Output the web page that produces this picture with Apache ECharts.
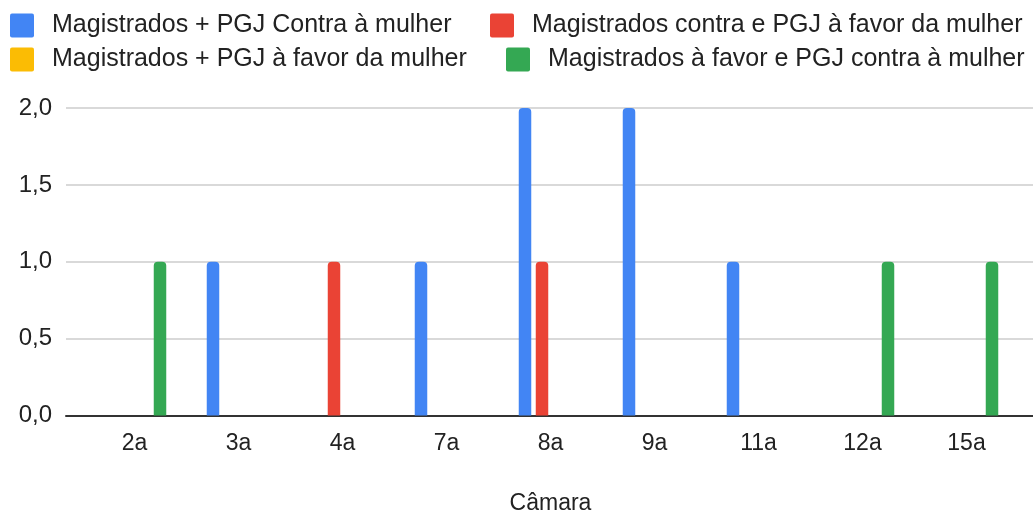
<!DOCTYPE html>
<html>
<head>
<meta charset="utf-8">
<script src="https://cdn.jsdelivr.net/npm/echarts@6/dist/echarts.min.js"></script>
<style>
  html, body { margin: 0; padding: 0; background: #fff; }
  #chart { width: 1033px; height: 513px; }
</style>
</head>
<body>
<div id="chart"></div>
<script>
var categories = ['2a', '3a', '4a', '7a', '8a', '9a', '11a', '12a', '15a'];
var seriesNames = [
    'Magistrados + PGJ Contra à mulher',
    'Magistrados contra e PGJ à favor da mulher',
    'Magistrados + PGJ à favor da mulher',
    'Magistrados à favor e PGJ contra à mulher'
];
var contraAmbos = [0, 1, 0, 1, 2, 2, 1, 0, 0];
var contraMagFavorPgj = [0, 0, 1, 0, 1, 0, 0, 0, 0];
var favorAmbos = [0, 0, 0, 0, 0, 0, 0, 0, 0];
var favorMagContraPgj = [1, 0, 0, 0, 0, 0, 0, 1, 1];
var yTicks = [0, 0.5, 1, 1.5, 2];

var colors = ['#4285F4', '#EA4335', '#FBBC04', '#34A853'];
var values = [contraAmbos, contraMagFavorPgj, favorAmbos, favorMagContraPgj];

// legend positions (google sheets puts them in a 2x2 block)
var legendPos = [
    {left: 10, top: 13},
    {left: 490, top: 13},
    {left: 10, top: 47},
    {left: 506, top: 47}
];

var fontFamily = '"Liberation Sans", Arial, sans-serif';
// square with slightly rounded corners, like the sheets legend
var squareIcon = 'path://M2,0H22Q24,0 24,2V22Q24,24 22,24H2Q0,24 0,22V2Q0,0 2,0Z';

var legends = seriesNames.map(function (name, i) {
    return {
        data: [name],
        left: legendPos[i].left,
        top: legendPos[i].top,
        padding: 0,
        itemWidth: 24,
        itemHeight: 24,
        icon: squareIcon,
        selectedMode: false,
        textStyle: {
            fontSize: 25,
            color: '#222',
            fontFamily: fontFamily,
            padding: [0, 0, 0, 13]
        }
    };
});

var series = seriesNames.map(function (name, i) {
    return {
        name: name,
        type: 'bar',
        xAxisIndex: 0,
        yAxisIndex: 0,
        data: values[i],
        barWidth: 12.5,
        barGap: '36%',
        z: 3,
        itemStyle: {
            color: colors[i],
            borderRadius: [4, 4, 0, 0]
        }
    };
});

var option = {
    animation: false,
    color: colors,
    legend: legends,
    grid: [
        {left: 82.5, right: 14.5, top: 108, bottom: 97.5, outerBoundsMode: 'none'},
        {left: 66, right: 0, top: 108, bottom: 97.5, outerBoundsMode: 'none'}
    ],
    xAxis: [
        {
            type: 'category',
            gridIndex: 0,
            data: categories,
            name: 'Câmara',
            nameLocation: 'middle',
            nameGap: 77,
            nameTextStyle: {fontSize: 23, color: '#222', fontFamily: fontFamily},
            axisLine: {show: false},
            axisTick: {show: false},
            axisLabel: {fontSize: 23, color: '#222', fontFamily: fontFamily, margin: 17}
        },
        {
            type: 'value',
            gridIndex: 1,
            min: 0,
            max: 1,
            axisLine: {show: true, lineStyle: {color: '#333', width: 2}},
            axisTick: {show: false},
            axisLabel: {show: false},
            splitLine: {show: false}
        }
    ],
    yAxis: [
        {
            type: 'value',
            gridIndex: 0,
            min: yTicks[0],
            max: yTicks[yTicks.length - 1],
            show: false
        },
        {
            type: 'value',
            gridIndex: 1,
            min: yTicks[0],
            max: yTicks[yTicks.length - 1],
            interval: 0.5,
            axisLine: {show: false},
            axisTick: {show: false},
            axisLabel: {
                fontSize: 24,
                color: '#222',
                fontFamily: fontFamily,
                margin: 14,
                formatter: function (v) { return v.toFixed(1).replace('.', ','); }
            },
            splitLine: {lineStyle: {color: '#ccc', width: 1.5}}
        }
    ],
    series: series
};

var chart = echarts.init(document.getElementById('chart'));
chart.setOption(option);
</script>
</body>
</html>
